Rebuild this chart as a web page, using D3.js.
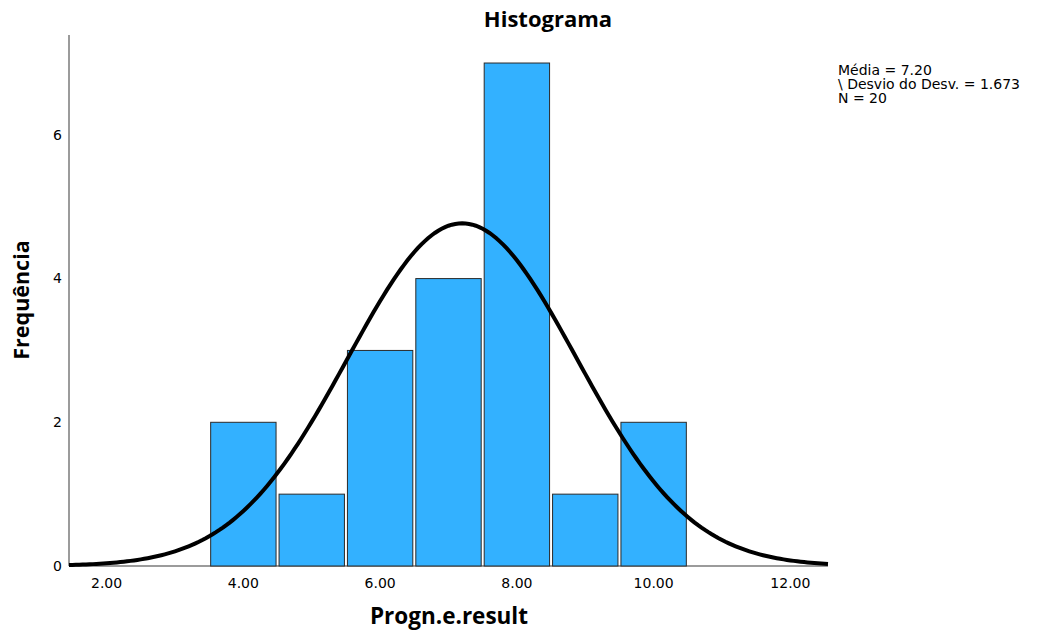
<!DOCTYPE html>
<html>
<head>
<meta charset="utf-8">
<script src="https://cdn.jsdelivr.net/npm/d3@7"></script>
<style>
  body { margin: 0; background: #fff; }
  text { font-family: "DejaVu Sans", sans-serif; fill: #000; }
  .label { font-family: "Open Sans", "DejaVu Sans", sans-serif; font-weight: bold; }
</style>
</head>
<body>
<div id="chart"></div>
<script>
// chart size
var width = 1037;
var height = 633;

// histogram data (bin centres and counts)
var binCenters = [4, 5, 6, 7, 8, 9, 10];
var counts = [2, 1, 3, 4, 7, 1, 2];
var binWidth = 1;

// summary stats shown in the legend
var mean = 7.20;
var stdDev = 1.673;
var n = 20;

var xTicks = [2, 4, 6, 8, 10, 12];
var yTicks = [0, 2, 4, 6];
var statLines = ["Média = 7.20", "\\ Desvio do Desv. = 1.673", "N = 20"];

var svg = d3.select("#chart")
  .append("svg")
  .attr("width", width)
  .attr("height", height);

// scales
var x = d3.scaleLinear().domain([1.45, 12.55]).range([69, 828]);
var y = d3.scaleLinear().domain([0, 7.39]).range([566, 35]);

// axis lines (no tick marks in SPSS style)
svg.append("line")
  .attr("x1", x.range()[0]).attr("x2", x.range()[0])
  .attr("y1", y.range()[0]).attr("y2", y.range()[1])
  .attr("stroke", "#7a7a7a").attr("stroke-width", 1.5);

svg.append("line")
  .attr("x1", x.range()[0]).attr("x2", x.range()[1])
  .attr("y1", y(0)).attr("y2", y(0))
  .attr("stroke", "#7a7a7a").attr("stroke-width", 1.5);

// tick labels
svg.selectAll(".xtick")
  .data(xTicks)
  .enter()
  .append("text")
  .attr("class", "xtick")
  .attr("x", function(d) { return x(d); })
  .attr("y", 588)
  .attr("text-anchor", "middle")
  .style("font-size", "14px")
  .text(function(d) { return d.toFixed(2); });

svg.selectAll(".ytick")
  .data(yTicks)
  .enter()
  .append("text")
  .attr("class", "ytick")
  .attr("x", 62)
  .attr("y", function(d) { return y(d); })
  .attr("dy", "0.35em")
  .attr("text-anchor", "end")
  .style("font-size", "14px")
  .text(function(d) { return d; });

// bars
svg.selectAll("rect.bar")
  .data(binCenters)
  .enter()
  .append("rect")
  .attr("class", "bar")
  .attr("x", function(d) { return x(d - binWidth / 2) + 1.5; })
  .attr("width", function(d) { return x(d + binWidth / 2) - x(d - binWidth / 2) - 3; })
  .attr("y", function(d, i) { return y(counts[i]); })
  .attr("height", function(d, i) { return y(0) - y(counts[i]); })
  .attr("fill", "#33b1ff")
  .attr("stroke", "#2a2a2a")
  .attr("stroke-width", 1);

// normal curve from mean / sd / N
var curvePts = d3.range(1.45, 12.5501, 0.05).map(function(v) {
  var z = (v - mean) / stdDev;
  return [v, n * binWidth / (stdDev * Math.sqrt(2 * Math.PI)) * Math.exp(-0.5 * z * z)];
});

svg.append("path")
  .datum(curvePts)
  .attr("fill", "none")
  .attr("stroke", "#000")
  .attr("stroke-width", 4)
  .attr("d", d3.line()
    .x(function(d) { return x(d[0]); })
    .y(function(d) { return y(d[1]); }));

// title and axis labels
svg.append("text")
  .attr("class", "label")
  .attr("x", 548)
  .attr("y", 27)
  .attr("text-anchor", "middle")
  .style("font-size", "22px")
  .text("Histograma");

svg.append("text")
  .attr("class", "label")
  .attr("x", 449)
  .attr("y", 624)
  .attr("text-anchor", "middle")
  .style("font-size", "22.5px")
  .text("Progn.e.result");

svg.append("text")
  .attr("class", "label")
  .attr("transform", "translate(29,300) rotate(-90)")
  .attr("text-anchor", "middle")
  .style("font-size", "21.5px")
  .text("Frequência");

// stats legend
svg.append("g")
  .selectAll("text")
  .data(statLines)
  .enter()
  .append("text")
  .attr("x", 838)
  .attr("y", function(d, i) { return 75 + i * 14; })
  .style("font-size", "14px")
  .text(function(d) { return d; });
</script>
</body>
</html>
